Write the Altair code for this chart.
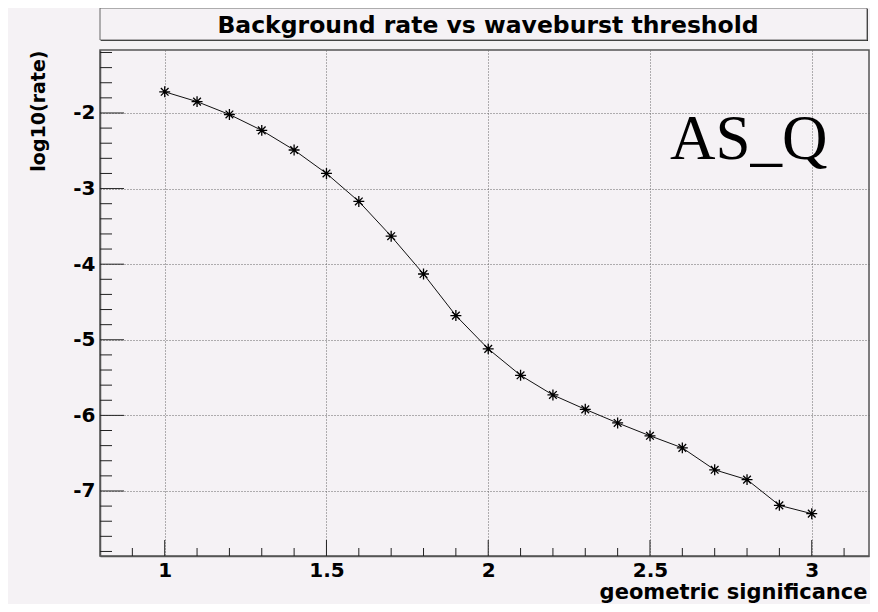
import altair as alt
import pandas as pd

# ---- data ----
sig = [1.0, 1.1, 1.2, 1.3, 1.4, 1.5, 1.6, 1.7, 1.8, 1.9, 2.0,
       2.1, 2.2, 2.3, 2.4, 2.5, 2.6, 2.7, 2.8, 2.9, 3.0]
lograte = [-1.72, -1.85, -2.02, -2.23, -2.49, -2.80, -3.17, -3.63, -4.13, -4.68, -5.12,
           -5.47, -5.73, -5.92, -6.10, -6.27, -6.43, -6.72, -6.85, -7.19, -7.30]

x_major = [1.0, 1.5, 2.0, 2.5, 3.0]
x_minor = [0.9, 1.1, 1.2, 1.3, 1.4, 1.6, 1.7, 1.8, 1.9, 2.1, 2.2, 2.3, 2.4,
           2.6, 2.7, 2.8, 2.9, 3.1]
y_major = [-2, -3, -4, -5, -6, -7]
y_minor = [-7.8, -7.6, -7.4, -7.2, -6.8, -6.6, -6.4, -6.2, -5.8, -5.6, -5.4, -5.2,
           -4.8, -4.6, -4.4, -4.2, -3.8, -3.6, -3.4, -3.2, -2.8, -2.6, -2.4, -2.2,
           -1.8, -1.6, -1.4, -1.2]

title_text = "Background rate vs waveburst threshold"
x_title = "geometric significance"
y_title = "log10(rate)"
label_text = "AS_Q"

W, H = 769, 506
BG = "#f5f2f5"
FONT = "DejaVu Sans"

xsc = alt.Scale(domain=[0.8, 3.177], nice=False, zero=False)
ysc = alt.Scale(domain=[-7.86, -1.167], nice=False, zero=False)

xaxis = alt.Axis(values=x_major, labelExpr="'' + datum.value",
                 labelPadding=4, labelFontSize=20,
                 titleFontSize=21, titleAnchor="end", titleAlign="right",
                 titleBaseline="alphabetic", titleX=W - 2, titleY=42)
yaxis = alt.Axis(values=y_major, labelExpr="'' + datum.value",
                 labelPadding=5, labelFontSize=20,
                 titleFontSize=19, titleAngle=-90, titleAlign="right",
                 titleBaseline="middle", titleX=-62, titleY=0)

df = pd.DataFrame({"sig": sig, "lograte": lograte})

star = "M-1,0L1,0M0,-1L0,1M-0.7,-0.7L0.7,0.7M-0.7,0.7L0.7,-0.7"

base = alt.Chart(df)

line = base.mark_line(color="#111", strokeWidth=1).encode(
    x=alt.X("sig:Q", scale=xsc, axis=xaxis, title=x_title),
    y=alt.Y("lograte:Q", scale=ysc, axis=yaxis, title=y_title),
)

points = base.mark_point(shape=star, size=120, filled=False, stroke="#000",
                         strokeWidth=1.3, opacity=1).encode(
    x=alt.X("sig:Q", scale=xsc, axis=xaxis, title=x_title),
    y=alt.Y("lograte:Q", scale=ysc, axis=yaxis, title=y_title),
)

ytick_major = alt.Chart(pd.DataFrame({"v": y_major})).mark_rule(color="#222", strokeWidth=1).encode(
    y=alt.Y("v:Q", scale=ysc, axis=yaxis, title=y_title), x=alt.value(0), x2=alt.value(24))
ytick_minor = alt.Chart(pd.DataFrame({"v": y_minor})).mark_rule(color="#222", strokeWidth=1).encode(
    y=alt.Y("v:Q", scale=ysc, axis=yaxis, title=y_title), x=alt.value(0), x2=alt.value(12))
xtick_major = alt.Chart(pd.DataFrame({"v": x_major})).mark_rule(color="#222", strokeWidth=1).encode(
    x=alt.X("v:Q", scale=xsc, axis=xaxis, title=x_title), y=alt.value(H), y2=alt.value(H - 16))
xtick_minor = alt.Chart(pd.DataFrame({"v": x_minor})).mark_rule(color="#222", strokeWidth=1).encode(
    x=alt.X("v:Q", scale=xsc, axis=xaxis, title=x_title), y=alt.value(H), y2=alt.value(H - 8))

tdf = pd.DataFrame({"t": [title_text]})
shadow = alt.Chart(tdf).mark_rect(fill="#222").encode(
    x=alt.value(1), x2=alt.value(W - 1), y=alt.value(-41), y2=alt.value(-9))
box = alt.Chart(tdf).mark_rect(fill=BG, stroke="#666", strokeWidth=1).encode(
    x=alt.value(0), x2=alt.value(W - 2), y=alt.value(-42), y2=alt.value(-10))
title = alt.Chart(tdf).mark_text(font=FONT, fontWeight="bold", fontSize=23.5,
                                 color="#000", align="center", baseline="alphabetic").encode(
    text="t:N", x=alt.value(388), y=alt.value(-17))

ldf = pd.DataFrame({"t": [label_text]})
label = alt.Chart(ldf).mark_text(font="Liberation Serif", fontSize=63, color="#000",
                                 align="left", baseline="alphabetic").encode(
    text="t:N", x=alt.value(570), y=alt.value(109))

chart = alt.layer(
    line, ytick_minor, ytick_major, xtick_minor, xtick_major, points,
    shadow, box, title, label
).properties(
    width=W, height=H,
    autosize=alt.AutoSizeParams(type="none"),
    padding={"left": 92, "top": 42, "right": 1, "bottom": 48},
    background=BG,
).configure_view(
    stroke="#555", strokeWidth=1.5
).configure_axis(
    ticks=False, tickSize=0,
    labelFont=FONT, labelFontWeight="bold", labelColor="#000",
    titleFont=FONT, titleFontWeight="bold", titleColor="#000",
    domainColor="#555", domainWidth=1.5,
    grid=True, gridDash=[1, 2], gridColor="#666", gridWidth=1,
)

chart.save("out.html", embed_options={"renderer": "svg", "actions": False})
